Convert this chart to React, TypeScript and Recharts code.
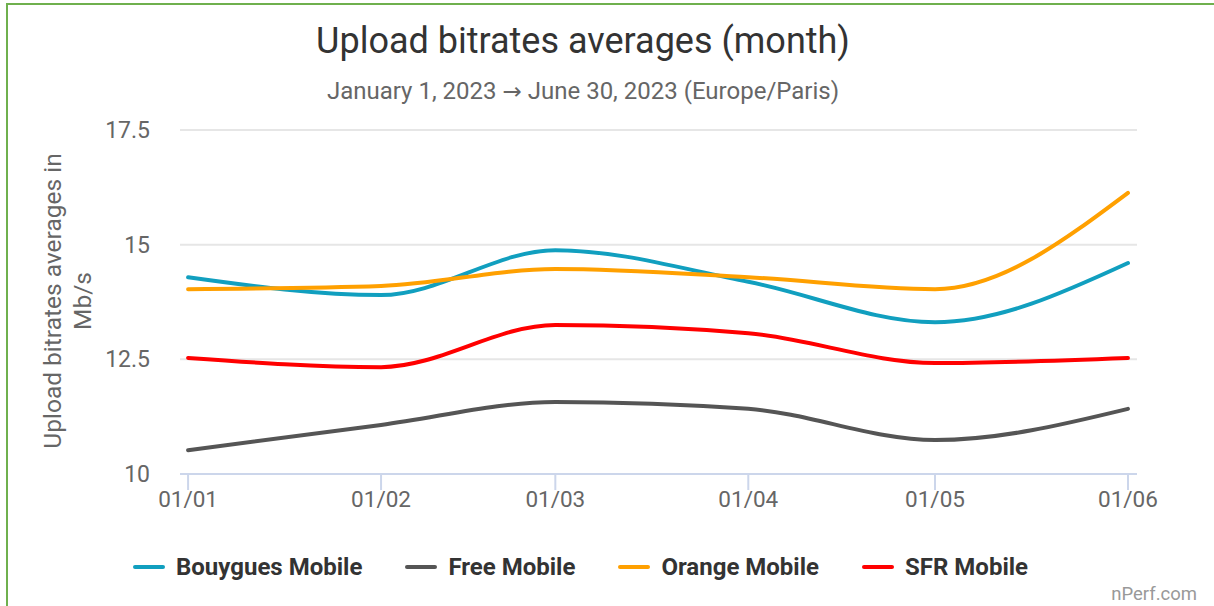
import React from 'react';
import { LineChart, Line, XAxis, YAxis, CartesianGrid } from 'recharts';

const monthLabels = ['01/01', '01/02', '01/03', '01/04', '01/05', '01/06'];
const dayOffsets = [0, 31, 59, 90, 120, 151];
const bouygues = [14.29, 13.9, 14.88, 14.19, 13.31, 14.6];
const free = [10.52, 11.07, 11.57, 11.42, 10.74, 11.42];
const orange = [14.03, 14.1, 14.47, 14.29, 14.03, 16.13];
const sfr = [12.53, 12.33, 13.25, 13.07, 12.42, 12.53];
const yTicks = [10, 12.5, 15, 17.5];

const seriesDefs = [
  { key: 'bouygues', name: 'Bouygues Mobile', color: '#119fbf' },
  { key: 'free', name: 'Free Mobile', color: '#555555' },
  { key: 'orange', name: 'Orange Mobile', color: '#ffa000' },
  { key: 'sfr', name: 'SFR Mobile', color: '#ff0000' },
];

const data = dayOffsets.map((d, i) => ({
  day: d,
  label: monthLabels[i],
  bouygues: bouygues[i],
  free: free[i],
  orange: orange[i],
  sfr: sfr[i],
}));

const FONT = 'Roboto, "Noto Sans", sans-serif';

const YLabel = () => (
  <g>
    <text
      x={52}
      y={301}
      transform="rotate(-90, 52, 301)"
      textAnchor="middle"
      dominantBaseline="central"
      fill="#666666"
      fontSize={24.5}
      fontFamily={FONT}
    >
      Upload bitrates averages in
    </text>
    <text
      x={82}
      y={301}
      transform="rotate(-90, 82, 301)"
      textAnchor="middle"
      dominantBaseline="central"
      fill="#666666"
      fontSize={24.5}
      fontFamily={FONT}
    >
      Mb/s
    </text>
  </g>
);

export default function App() {
  return (
    <div style={{ position: 'absolute', left: 0, top: 0, width: 1214, height: 606, background: '#fff', overflow: 'hidden', fontFamily: FONT }}>
      <div style={{ position: 'absolute', left: 6, top: 3, width: 1300, height: 700, border: '2px solid #6fb04e', boxSizing: 'border-box' }} />
      <div style={{ position: 'absolute', left: 0, top: 19, width: 1166, textAlign: 'center', fontSize: 36, color: '#333333', lineHeight: '44px' }}>
        Upload bitrates averages (month)
      </div>
      <div style={{ position: 'absolute', left: 0, top: 76, width: 1166, textAlign: 'center', fontSize: 24, color: '#666666', lineHeight: '30px' }}>
        January 1, 2023 <span style={{ fontFamily: '"DejaVu Sans", sans-serif', fontSize: 23 }}>→</span> June 30, 2023 (Europe/Paris)
      </div>
      <div style={{ position: 'absolute', left: 0, top: 0 }}>
        <LineChart width={1214} height={606} data={data} margin={{ top: 130, right: 77, bottom: 92, left: 120 }}>
          <CartesianGrid vertical={false} stroke="#e6e6e6" strokeWidth={2} />
          <XAxis
            dataKey="day"
            type="number"
            domain={[-1.3, 152.45]}
            allowDataOverflow
            ticks={dayOffsets}
            tickFormatter={(v: number) => monthLabels[dayOffsets.indexOf(v)] ?? ''}
            axisLine={{ stroke: '#ccd6eb', strokeWidth: 2 }}
            tickLine={{ stroke: '#ccd6eb', strokeWidth: 2 }}
            height={40}
            tickSize={16}
            tickMargin={1}
            tick={{ fill: '#666666', fontSize: 22.5, fontFamily: FONT }}
            interval={0}
          />
          <YAxis
            type="number"
            domain={[10, 17.5]}
            ticks={yTicks}
            width={60}
            axisLine={false}
            tickLine={false}
            tickSize={6}
            tickMargin={24}
            tick={{ fill: '#666666', fontSize: 23, fontFamily: FONT }}
            interval={0}
            label={{ content: () => <YLabel /> }}
          />
          {seriesDefs.map((s) => (
            <Line
              key={s.key}
              dataKey={s.key}
              name={s.name}
              type="monotoneX"
              stroke={s.color}
              strokeWidth={4}
              dot={false}
              activeDot={false}
              isAnimationActive={false}
              strokeLinecap="round"
            />
          ))}
        </LineChart>
      </div>
      <div style={{ position: 'absolute', left: 133, top: 551, height: 32, display: 'flex', alignItems: 'center' }}>
        {seriesDefs.map((s, i) => (
          <div key={s.key} style={{ display: 'flex', alignItems: 'center', marginRight: i < seriesDefs.length - 1 ? 43 : 0 }}>
            <div style={{ width: 32, height: 4, borderRadius: 2, background: s.color, marginRight: 11 }} />
            <span style={{ fontSize: 24, fontWeight: 700, color: '#333333' }}>{s.name}</span>
          </div>
        ))}
      </div>
      <div style={{ position: 'absolute', right: 17, top: 583, fontSize: 18.5, color: '#999999' }}>nPerf.com</div>
    </div>
  );
}
